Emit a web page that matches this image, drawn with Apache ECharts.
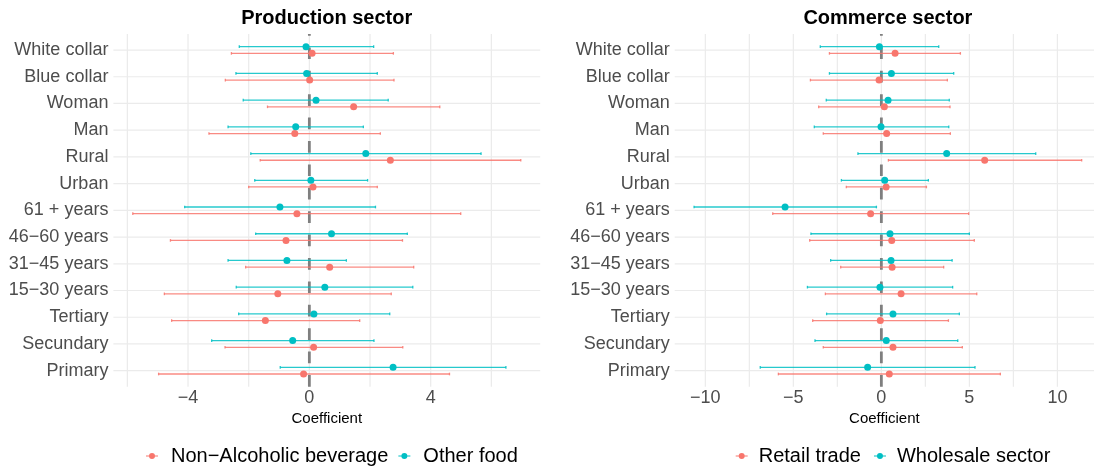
<!DOCTYPE html>
<html>
<head>
<meta charset="utf-8">
<script src="https://cdn.jsdelivr.net/npm/echarts@6/dist/echarts.min.js"></script>
<style>
  html, body { margin: 0; padding: 0; background: #ffffff; }
  #chart { width: 1094px; height: 471px; }
</style>
</head>
<body>
<div id="chart"></div>
<script>
// Row labels, listed top to bottom
const categories = ['White collar', 'Blue collar', 'Woman', 'Man', 'Rural', 'Urban',
  '61 + years', '46\u221260 years', '31\u221245 years', '15\u221230 years',
  'Tertiary', 'Secundary', 'Primary'];

// Production sector: Non-Alcoholic beverage (estimate, lower, upper)
const nonAlcEst  = [0.09, 0.01, 1.46, -0.48, 2.67, 0.12, -0.41, -0.77, 0.67, -1.04, -1.45, 0.14, -0.19];
const nonAlcLow  = [-2.57, -2.77, -1.38, -3.31, -1.62, -2.00, -5.82, -4.58, -2.10, -4.78, -4.54, -2.78, -4.97];
const nonAlcHigh = [2.77, 2.79, 4.30, 2.34, 6.97, 2.24, 4.99, 3.07, 3.44, 2.70, 1.66, 3.08, 4.62];

// Production sector: Other food
const otherFoodEst  = [-0.11, -0.09, 0.22, -0.45, 1.86, 0.05, -0.97, 0.73, -0.74, 0.51, 0.15, -0.55, 2.76];
const otherFoodLow  = [-2.31, -2.42, -2.18, -2.68, -1.93, -1.80, -4.11, -1.77, -2.68, -2.41, -2.33, -3.22, -0.96];
const otherFoodHigh = [2.12, 2.24, 2.60, 1.78, 5.66, 1.92, 2.18, 3.23, 1.22, 3.41, 2.65, 2.13, 6.48];

// Commerce sector: Retail trade
const retailEst  = [0.78, -0.13, 0.17, 0.30, 5.87, 0.27, -0.61, 0.59, 0.61, 1.12, -0.06, 0.66, 0.45];
const retailLow  = [-2.95, -4.03, -3.56, -3.30, 0.40, -1.99, -6.17, -4.07, -2.31, -3.18, -3.90, -3.30, -5.85];
const retailHigh = [4.49, 3.75, 3.90, 3.92, 11.38, 2.56, 4.96, 5.28, 3.54, 5.42, 3.81, 4.60, 6.76];

// Commerce sector: Wholesale sector
const wholesaleEst  = [-0.11, 0.57, 0.38, -0.02, 3.71, 0.19, -5.47, 0.49, 0.55, -0.08, 0.66, 0.28, -0.78];
const wholesaleLow  = [-3.47, -2.95, -3.13, -3.81, -1.33, -2.27, -10.64, -4.00, -2.88, -4.20, -3.11, -3.77, -6.88];
const wholesaleHigh = [3.26, 4.11, 3.86, 3.83, 8.77, 2.67, -0.28, 5.00, 4.02, 4.05, 4.43, 4.34, 5.32];

// Axis ticks and grid line positions
const prodTickLabels = [-4, 0, 4];
const prodGridX = [-6, -4, -2, 0, 2, 4, 6];
const commTickLabels = [-10, -5, 0, 5, 10];
const commGridX = [-10, -7.5, -5, -2.5, 0, 2.5, 5, 7.5, 10];

const RED = '#F8766D';
const TEAL = '#00BFC4';
const DODGE = 0.125;
const N = categories.length;
const rowPos = categories.map((_, i) => N - i);

const fmtNum = v => (v < 0 ? '\u2212' + Math.abs(v) : String(v));
const legendIcon = 'path://M0,2.4H12V3.6H0Z M9,3A3,3,0,1,1,3,3A3,3,0,1,1,9,3Z';

function gridLinesSeries(idx, xs) {
  const vert = xs.map(v => [v, 1]);
  const horiz = rowPos.map(p => [0, p]);
  return [{
    type: 'custom', xAxisIndex: idx, yAxisIndex: idx, z: 1, silent: true,
    data: vert,
    renderItem: (params, api) => {
      const cs = params.coordSys;
      const x = api.coord([api.value(0), api.value(1)])[0];
      return { type: 'line', shape: { x1: x, y1: cs.y, x2: x, y2: cs.y + cs.height },
        style: { stroke: '#EBEBEB', lineWidth: 1.2 } };
    }
  }, {
    type: 'custom', xAxisIndex: idx, yAxisIndex: idx, z: 1, silent: true,
    data: horiz,
    renderItem: (params, api) => {
      const cs = params.coordSys;
      const y = api.coord([api.value(0), api.value(1)])[1];
      return { type: 'line', shape: { x1: cs.x, y1: y, x2: cs.x + cs.width, y2: y },
        style: { stroke: '#EBEBEB', lineWidth: 1.2 } };
    }
  }, {
    // dashed reference line at zero, drawn bottom to top
    type: 'line', xAxisIndex: idx, yAxisIndex: idx, z: 2, silent: true,
    symbol: 'none', data: [[0, 0.4], [0, 13.6]],
    lineStyle: { color: '#7F7F7F', width: 2.8, type: [11.7, 11.7] }
  }];
}

function errorBarSeries(idx, name, color, low, high, offset) {
  return {
    type: 'custom', name: name, xAxisIndex: idx, yAxisIndex: idx, z: 3, silent: true,
    data: low.map((l, i) => [l, high[i], rowPos[i] + offset]),
    encode: { x: [0, 1], y: 2 },
    renderItem: (params, api) => {
      const a = api.coord([api.value(0), api.value(2)]);
      const b = api.coord([api.value(1), api.value(2)]);
      const cap = api.size([0, 0.05])[1];
      const st = { stroke: color, lineWidth: 1.3, opacity: 0.85 };
      return { type: 'group', children: [
        { type: 'line', shape: { x1: a[0], y1: a[1], x2: b[0], y2: b[1] }, style: st },
        { type: 'line', shape: { x1: a[0], y1: a[1] - cap, x2: a[0], y2: a[1] + cap }, style: st },
        { type: 'line', shape: { x1: b[0], y1: b[1] - cap, x2: b[0], y2: b[1] + cap }, style: st }
      ] };
    }
  };
}

function pointSeries(idx, name, color, est, offset) {
  return {
    type: 'scatter', name: name, xAxisIndex: idx, yAxisIndex: idx, z: 4,
    symbol: 'circle', symbolSize: 7,
    itemStyle: { color: color, opacity: 1 },
    data: est.map((v, i) => [v, rowPos[i] + offset])
  };
}

function xAxisFor(idx, min, max, ticks) {
  return {
    type: 'value', gridIndex: idx, min: min, max: max,
    axisLine: { show: false }, axisTick: { show: false }, splitLine: { show: false },
    axisLabel: { customValues: ticks, formatter: fmtNum, fontSize: 18, color: '#4D4D4D',
      fontFamily: 'Liberation Sans', margin: 2 },
    name: 'Coefficient', nameLocation: 'middle', nameGap: 22,
    nameTextStyle: { fontSize: 15, color: '#000000', fontFamily: 'Liberation Sans' }
  };
}

function yAxisFor(idx) {
  return {
    type: 'value', gridIndex: idx, min: 0.4, max: 13.6,
    axisLine: { show: false }, axisTick: { show: false }, splitLine: { show: false },
    axisLabel: { customValues: rowPos, formatter: v => categories[N - Math.round(v)],
      fontSize: 18, color: '#4D4D4D', fontFamily: 'Liberation Sans', margin: 5 }
  };
}

const chart = echarts.init(document.getElementById('chart'), null, { renderer: 'canvas' });
chart.setOption({
  backgroundColor: '#ffffff',
  animation: false,
  title: [
    { text: 'Production sector', left: 326.7, top: 8, textAlign: 'center', padding: 0,
      textStyle: { fontSize: 20, fontWeight: 'bold', color: '#000', fontFamily: 'Liberation Sans' } },
    { text: 'Commerce sector', left: 887.9, top: 8, textAlign: 'center', padding: 0,
      textStyle: { fontSize: 20, fontWeight: 'bold', color: '#000', fontFamily: 'Liberation Sans' } }
  ],
  grid: [
    { left: 113.4, top: 34, width: 426.8, height: 352.7 },
    { left: 674.7, top: 34, width: 419.3, height: 352.7 }
  ],
  xAxis: [xAxisFor(0, -6.46, 7.61, prodTickLabels), xAxisFor(1, -11.74, 12.08, commTickLabels)],
  yAxis: [yAxisFor(0), yAxisFor(1)],
  legend: [
    { data: [{ name: 'Non\u2212Alcoholic beverage', icon: legendIcon }, { name: 'Other food', icon: legendIcon }],
      left: 146, top: 446, padding: 0, itemWidth: 12, itemHeight: 6, itemGap: 10, selectedMode: false,
      textStyle: { fontSize: 20, color: '#000', fontFamily: 'Liberation Sans', padding: [0, 0, 0, 8] } },
    { data: [{ name: 'Retail trade', icon: legendIcon }, { name: 'Wholesale sector', icon: legendIcon }],
      left: 735.7, top: 446, padding: 0, itemWidth: 12, itemHeight: 6, itemGap: 13, selectedMode: false,
      textStyle: { fontSize: 20, color: '#000', fontFamily: 'Liberation Sans', padding: [0, 0, 0, 6] } }
  ],
  series: [
    ...gridLinesSeries(0, prodGridX),
    ...gridLinesSeries(1, commGridX),
    pointSeries(0, 'Non\u2212Alcoholic beverage', RED, nonAlcEst, -DODGE),
    pointSeries(0, 'Other food', TEAL, otherFoodEst, DODGE),
    pointSeries(1, 'Retail trade', RED, retailEst, -DODGE),
    pointSeries(1, 'Wholesale sector', TEAL, wholesaleEst, DODGE),
    errorBarSeries(0, 'Non\u2212Alcoholic beverage', RED, nonAlcLow, nonAlcHigh, -DODGE),
    errorBarSeries(0, 'Other food', TEAL, otherFoodLow, otherFoodHigh, DODGE),
    errorBarSeries(1, 'Retail trade', RED, retailLow, retailHigh, -DODGE),
    errorBarSeries(1, 'Wholesale sector', TEAL, wholesaleLow, wholesaleHigh, DODGE)
  ]
});
</script>
</body>
</html>
